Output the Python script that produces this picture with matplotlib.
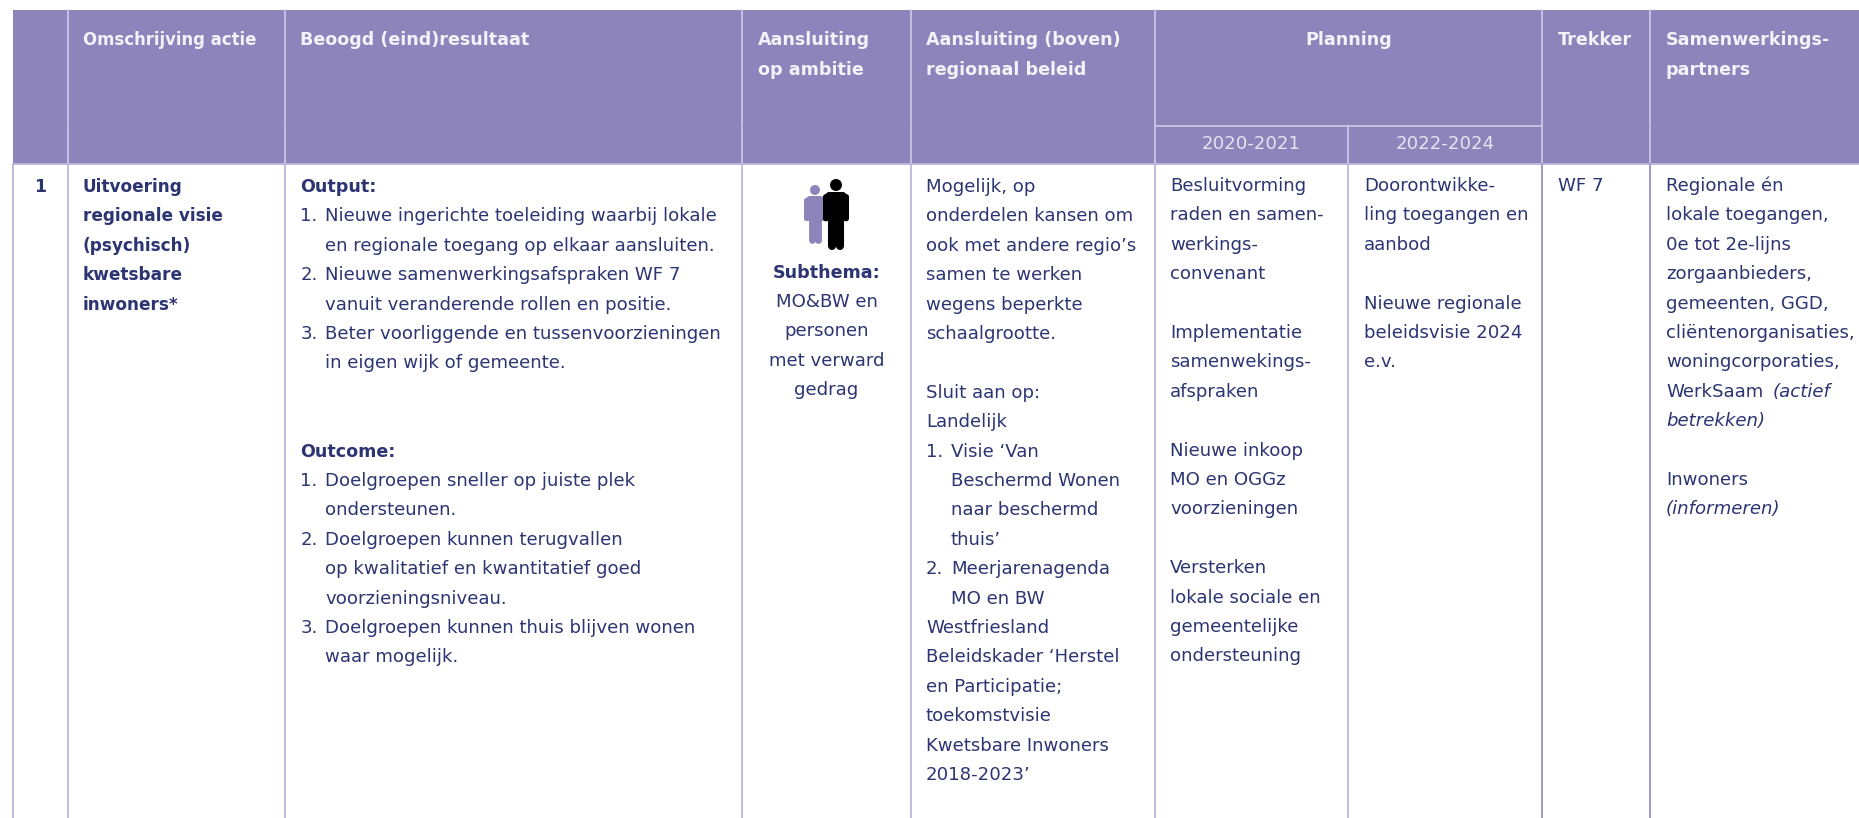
import matplotlib
matplotlib.use("Agg")
import matplotlib.pyplot as plt
from matplotlib.patches import Rectangle, Circle, FancyBboxPatch

W, H = 1859, 818
PURPLE = '#8E84BC'
NAVY = '#2C3472'
HEADTXT = '#F3F2F8'
BODYLINE = '#BDB7DC'
HEADLINE = '#CFCBE4'
FS = 13.07
FSB = 12.6

col_edges = [13, 68, 285.5, 742.5, 911, 1155, 1348, 1542, 1650]
header_top = 10
header_mid = 126
header_bot = 164
line_h = 29.4

headers = [
    (83, ['Omschrijving actie']),
    (300.5, ['Beoogd (eind)resultaat']),
    (758, ['Aansluiting', 'op ambitie']),
    (926, ['Aansluiting (boven)', 'regionaal beleid']),
    (1558, ['Trekker']),
    (1666, ['Samenwerkings-', 'partners']),
]
planning_label = 'Planning'
years = ['2020-2021', '2022-2024']

number = '1'
action = ['Uitvoering', 'regionale visie', '(psychisch)', 'kwetsbare', 'inwoners*']

result = [
    (0, 0, 'Output:', True),
    (1, 0, '1.', False), (1, 1, 'Nieuwe ingerichte toeleiding waarbij lokale', False),
    (2, 1, 'en regionale toegang op elkaar aansluiten.', False),
    (3, 0, '2.', False), (3, 1, 'Nieuwe samenwerkingsafspraken WF 7', False),
    (4, 1, 'vanuit veranderende rollen en positie.', False),
    (5, 0, '3.', False), (5, 1, 'Beter voorliggende en tussenvoorzieningen', False),
    (6, 1, 'in eigen wijk of gemeente.', False),
    (9, 0, 'Outcome:', True),
    (10, 0, '1.', False), (10, 1, 'Doelgroepen sneller op juiste plek', False),
    (11, 1, 'ondersteunen.', False),
    (12, 0, '2.', False), (12, 1, 'Doelgroepen kunnen terugvallen', False),
    (13, 1, 'op kwalitatief en kwantitatief goed', False),
    (14, 1, 'voorzieningsniveau.', False),
    (15, 0, '3.', False), (15, 1, 'Doelgroepen kunnen thuis blijven wonen', False),
    (16, 1, 'waar mogelijk.', False),
]

subthema = ['MO&BW en', 'personen', 'met verward', 'gedrag']

policy = [
    (0, 0, 'Mogelijk, op'), (1, 0, 'onderdelen kansen om'), (2, 0, 'ook met andere regio\u2019s'),
    (3, 0, 'samen te werken'), (4, 0, 'wegens beperkte'), (5, 0, 'schaalgrootte.'),
    (7, 0, 'Sluit aan op:'), (8, 0, 'Landelijk'),
    (9, 0, '1.'), (9, 1, 'Visie \u2018Van'), (10, 1, 'Beschermd Wonen'), (11, 1, 'naar beschermd'), (12, 1, 'thuis\u2019'),
    (13, 0, '2.'), (13, 1, 'Meerjarenagenda'), (14, 1, 'MO en BW'),
    (15, 0, 'Westfriesland'), (16, 0, 'Beleidskader \u2018Herstel'), (17, 0, 'en Participatie;'),
    (18, 0, 'toekomstvisie'), (19, 0, 'Kwetsbare Inwoners'), (20, 0, '2018-2023\u2019'),
]

plan_2020 = ['Besluitvorming', 'raden en samen-', 'werkings-', 'convenant', '',
             'Implementatie', 'samenwekings-', 'afspraken', '',
             'Nieuwe inkoop', 'MO en OGGz', 'voorzieningen', '',
             'Versterken', 'lokale sociale en', 'gemeentelijke', 'ondersteuning']
plan_2022 = ['Doorontwikke-', 'ling toegangen en', 'aanbod', '',
             'Nieuwe regionale', 'beleidsvisie 2024', 'e.v.']
trekker = ['WF 7']
partners = ['Regionale \u00e9n', 'lokale toegangen,', '0e tot 2e-lijns', 'zorgaanbieders,',
            'gemeenten, GGD,', 'cli\u00ebntenorganisaties,', 'woningcorporaties,']

fig = plt.figure(figsize=(W / 100, H / 100), dpi=100, facecolor='white')
ax = fig.add_axes([0, 0, 1, 1])
ax.set_xlim(0, W)
ax.set_ylim(H, 0)
ax.axis('off')

ax.add_patch(Rectangle((col_edges[0], header_top), W - col_edges[0], header_bot - header_top,
                       fc=PURPLE, ec='none', zorder=1))


def txt(x, y, s, bold=False, italic=False, color=NAVY, ha='left', size=None):
    if size is None:
        size = FSB if bold else FS
    return ax.text(x, y, s, fontsize=size, color=color, ha=ha, va='center', family='DejaVu Sans',
                   fontweight='bold' if bold else 'normal',
                   fontstyle='italic' if italic else 'normal', zorder=5)


# grid lines
for x in col_edges[1:]:
    if x in (1155, 1348):
        continue
    ax.plot([x, x], [header_top, header_mid - 1], color=HEADLINE, lw=1.2, zorder=2)
    if x != 1542:
        ax.plot([x, x], [header_mid + 1, header_bot], color=HEADLINE, lw=1.2, zorder=2)
    else:
        ax.plot([x, x], [header_mid, header_bot], color=HEADLINE, lw=1.2, zorder=2)
ax.plot([1155, 1155], [header_top, header_bot], color=HEADLINE, lw=1.2, zorder=2)
ax.plot([1348, 1348], [header_mid, header_bot], color=HEADLINE, lw=1.2, zorder=2)
ax.plot([1155, 1542], [header_mid, header_mid], color=HEADLINE, lw=1.2, zorder=2)
ax.plot([col_edges[0], W], [header_bot, header_bot], color=BODYLINE, lw=1.4, zorder=2)
for x in col_edges:
    c = '#9C93CA' if x in (1542, 1650) else BODYLINE
    ax.plot([x, x], [header_bot, H], color=c, lw=1.3, zorder=2)

# header text
for x, lines in headers:
    for i, s in enumerate(lines):
        # first header is set tighter in the source
        txt(x, 40 + i * 30, s, bold=True, color=HEADTXT, size=11.9 if s.startswith('Omschr') else None)
txt((1155 + 1542) / 2, 40, planning_label, bold=True, color=HEADTXT, ha='center')
txt((1155 + 1348) / 2, 144, years[0], color='#E6E4F1', ha='center')
txt((1348 + 1542) / 2, 144, years[1], color='#E6E4F1', ha='center')

# body text
y0 = 187
txt(40.5, y0, number, bold=True, ha='center')
for i, s in enumerate(action):
    txt(83, y0 + i * line_h, s, bold=True, size=12.2)
for row, indent, s, bold in result:
    txt(300.5 + indent * 24.5, y0 + row * line_h, s, bold=bold)

txt(826.5, 272.5, 'Subthema:', bold=True, ha='center')
for i, s in enumerate(subthema):
    txt(826.5, 302 + i * line_h, s, ha='center')

for row, indent, s in policy:
    txt(926 + indent * 25, y0 + row * line_h, s)
for i, s in enumerate(plan_2020):
    txt(1170, 186 + i * line_h, s)
for i, s in enumerate(plan_2022):
    txt(1364, 186 + i * line_h, s)
for i, s in enumerate(trekker):
    txt(1558, 186 + i * line_h, s)
for i, s in enumerate(partners):
    txt(1666, 186 + i * line_h, s)

# line with mixed roman and italic
t = txt(1666, 186 + 7 * line_h, 'WerkSaam')
fig.canvas.draw()
bb = t.get_window_extent()
txt(1666 + bb.width + 9, 186 + 7 * line_h, '(actief', italic=True)
txt(1666, 186 + 8 * line_h, 'betrekken)', italic=True)
txt(1666, 186 + 10 * line_h, 'Inwoners')
txt(1666, 186 + 11 * line_h, '(informeren)', italic=True)


def person(cx, top, bottom, half_w, r, color, z):
    # head, torso with arms, two legs
    ax.add_patch(Circle((cx, top + r), r, fc=color, ec='none', zorder=z))
    sh = top + 2 * r + 1
    arm_h = half_w * 2.1
    ax.add_patch(FancyBboxPatch((cx - half_w * 0.8, sh), 2 * half_w * 0.8, arm_h + 2,
                                boxstyle='round,pad=0,rounding_size=4', fc=color, ec='none', zorder=z))
    arm = half_w * 0.22
    leg = half_w * 0.31
    for side in (-1, 1):
        ax.add_patch(FancyBboxPatch((cx + side * (half_w - arm) - arm, sh + 2), 2 * arm, arm_h,
                                    boxstyle='round,pad=0,rounding_size=%.1f' % arm, fc=color, ec='none', zorder=z))
        ax.plot([cx + side * leg] * 2, [sh + arm_h * 0.7, bottom - leg],
                color=color, lw=leg * 2 * 0.72, solid_capstyle='round', zorder=z)


person(815, 185, 243, 11, 5, PURPLE, 3)
person(836, 179, 250, 13, 6, 'black', 4)

fig.savefig('out.png', dpi=100, facecolor='white')
